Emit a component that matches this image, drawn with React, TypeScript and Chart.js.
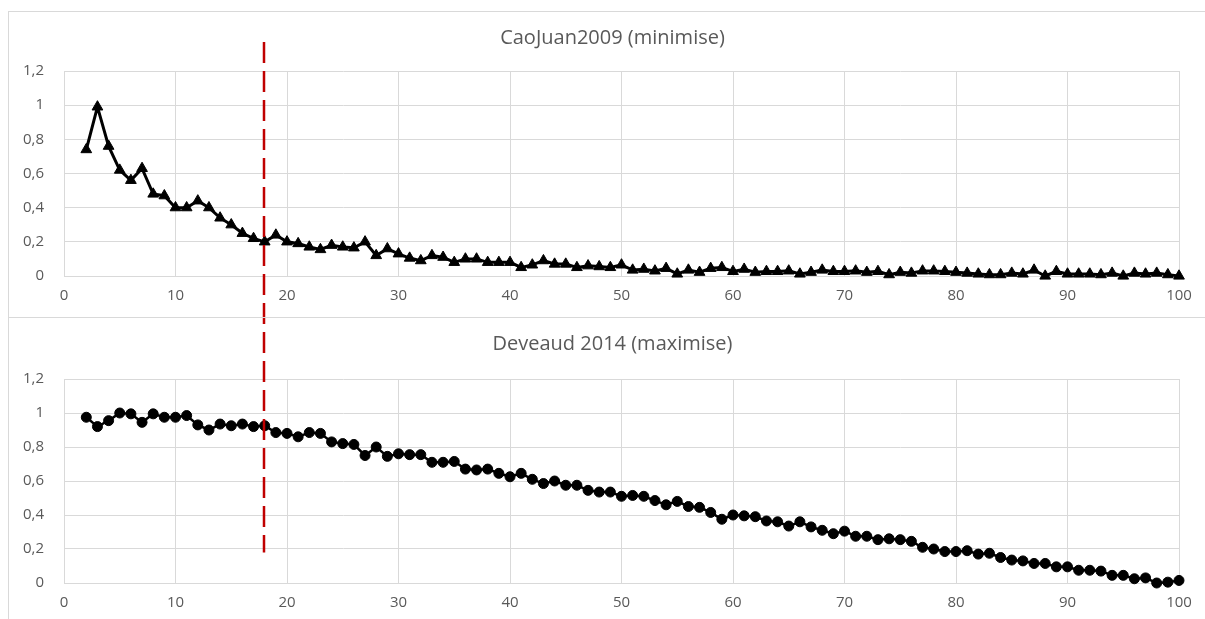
import React, { useEffect, useRef } from "react";
import { Chart, registerables } from "chart.js";

Chart.register(...registerables);

// ---------- data ----------
const kValues = [
  2, 3, 4, 5, 6, 7, 8, 9, 10, 11, 12, 13, 14, 15, 16, 17, 18, 19, 20, 21,
  22, 23, 24, 25, 26, 27, 28, 29, 30, 31, 32, 33, 34, 35, 36, 37, 38, 39, 40, 41,
  42, 43, 44, 45, 46, 47, 48, 49, 50, 51, 52, 53, 54, 55, 56, 57, 58, 59, 60, 61,
  62, 63, 64, 65, 66, 67, 68, 69, 70, 71, 72, 73, 74, 75, 76, 77, 78, 79, 80, 81,
  82, 83, 84, 85, 86, 87, 88, 89, 90, 91, 92, 93, 94, 95, 96, 97, 98, 99, 100,
];

const caoJuanValues = [
  0.74, 0.99, 0.76, 0.62, 0.56, 0.63, 0.48, 0.47, 0.4, 0.4, 0.44, 0.4, 0.34, 0.3, 0.25, 0.22, 0.2, 0.24, 0.2, 0.19,
  0.17, 0.155, 0.18, 0.17, 0.165, 0.2, 0.12, 0.16, 0.13, 0.105, 0.09, 0.12, 0.11, 0.08, 0.1, 0.1, 0.08, 0.08, 0.08, 0.05,
  0.065, 0.09, 0.07, 0.07, 0.05, 0.06, 0.055, 0.05, 0.065, 0.035, 0.04, 0.03, 0.045, 0.012, 0.035, 0.022, 0.045, 0.05, 0.027, 0.04,
  0.022, 0.027, 0.027, 0.03, 0.012, 0.022, 0.035, 0.027, 0.027, 0.03, 0.022, 0.027, 0.008, 0.022, 0.017, 0.03, 0.03, 0.027, 0.022, 0.017,
  0.012, 0.008, 0.008, 0.017, 0.012, 0.035, 0.0, 0.027, 0.012, 0.012, 0.012, 0.008, 0.017, 0.0, 0.017, 0.012, 0.017, 0.008, 0.0,
];

const deveaudValues = [
  0.975, 0.92, 0.955, 1.0, 0.995, 0.945, 0.995, 0.975, 0.975, 0.985, 0.93, 0.9, 0.935, 0.925, 0.935, 0.92, 0.925, 0.885, 0.88, 0.86,
  0.885, 0.88, 0.83, 0.82, 0.815, 0.75, 0.8, 0.745, 0.76, 0.755, 0.755, 0.71, 0.71, 0.715, 0.67, 0.665, 0.67, 0.645, 0.625, 0.645,
  0.61, 0.585, 0.6, 0.575, 0.575, 0.545, 0.535, 0.535, 0.51, 0.515, 0.51, 0.485, 0.46, 0.48, 0.45, 0.445, 0.415, 0.375, 0.4, 0.395,
  0.39, 0.365, 0.36, 0.335, 0.36, 0.33, 0.31, 0.29, 0.305, 0.275, 0.275, 0.255, 0.26, 0.255, 0.245, 0.21, 0.2, 0.185, 0.185, 0.19,
  0.17, 0.175, 0.15, 0.135, 0.13, 0.115, 0.115, 0.095, 0.095, 0.075, 0.075, 0.07, 0.045, 0.045, 0.025, 0.03, 0.0, 0.005, 0.015,
];

const xTickValues = [0, 10, 20, 30, 40, 50, 60, 70, 80, 90, 100];
const xTickLabels = ["0", "10", "20", "30", "40", "50", "60", "70", "80", "90", "100"];
const yTickValues = [0, 0.2, 0.4, 0.6, 0.8, 1, 1.2];
const yTickLabels = ["0", "0,2", "0,4", "0,6", "0,8", "1", "1,2"];

const topTitle = "CaoJuan2009 (minimise)";
const bottomTitle = "Deveaud 2014 (maximise)";

// chosen number of topics, marked by the red dashed line
const chosenK = 18;
const markerStartValue = 1.37; // top panel value where the marker begins
const markerEndValue = 0.18; // bottom panel value where the marker ends

// ---------- styles ----------
const FONT = "'Open Sans', 'DejaVu Sans', sans-serif";
const TEXT = "#595959";
const GRID = "#d9d9d9";
const DASH = [21, 8];
const DASH_LEN = 29;
const CANVAS_W = 1207;

type Shared = { covered: number };

function markerPlugin(kind: "top" | "bottom", shared: Shared) {
  return {
    id: "kMarker" + kind,
    afterDatasetsDraw(chart: any) {
      const { ctx } = chart;
      const xs = chart.scales.x;
      const ys = chart.scales.y;
      const px = Math.round(xs.getPixelForValue(chosenK)) - 1;
      let y0: number, y1: number, offset: number;
      if (kind === "top") {
        y0 = ys.getPixelForValue(markerStartValue);
        y1 = chart.height;
        offset = 0;
        shared.covered = y1 - y0;
      } else {
        y0 = 0;
        y1 = ys.getPixelForValue(markerEndValue);
        offset = (shared.covered + 1) % DASH_LEN;
      }
      ctx.save();
      ctx.strokeStyle = "#c00000";
      ctx.lineWidth = 2.5;
      ctx.setLineDash(DASH);
      ctx.lineDashOffset = offset;
      ctx.beginPath();
      ctx.moveTo(px, y0);
      ctx.lineTo(px, y1);
      ctx.stroke();
      ctx.restore();
    },
  };
}

function makeConfig(opts: {
  title: string;
  values: number[];
  pointStyle: string;
  pointRadius: number;
  lineWidth: number;
  titleBottom: number;
  xHeight: number;
  plugin: any;
}) {
  const tickFont = { family: FONT, size: 15 };
  return {
    type: "line",
    data: {
      datasets: [
        {
          data: kValues.map((k, i) => ({ x: k, y: opts.values[i] })),
          borderColor: "#000000",
          backgroundColor: "#000000",
          borderWidth: opts.lineWidth,
          pointStyle: opts.pointStyle,
          pointRadius: opts.pointRadius,
          pointBorderWidth: 1,
          pointBackgroundColor: "#000000",
          pointBorderColor: "#000000",
          tension: 0,
          clip: false,
          xAxisID: "x",
          yAxisID: "y",
        },
      ],
    },
    options: {
      responsive: false,
      animation: false,
      events: [],
      layout: { padding: 0 },
      plugins: {
        legend: { display: false },
        tooltip: { enabled: false },
        title: {
          display: true,
          text: opts.title,
          color: TEXT,
          font: { family: FONT, size: 20, weight: "normal", lineHeight: 1.2 },
          padding: { top: 14, bottom: opts.titleBottom },
        },
      },
      scales: {
        x: {
          type: "linear",
          min: 0,
          max: 100,
          afterBuildTicks: (s: any) => {
            s.ticks = xTickValues.map((v) => ({ value: v }));
          },
          afterFit: (s: any) => {
            s.height = opts.xHeight;
            s.paddingLeft = 0;
            s.paddingRight = 0;
          },
          ticks: {
            callback: (_v: any, i: number) => xTickLabels[i],
            padding: 11,
            color: TEXT,
            font: tickFont,
            maxRotation: 0,
            autoSkip: false,
          },
          grid: { color: GRID, lineWidth: 1, drawTicks: false },
          border: { display: true, color: GRID },
        },
        y: {
          type: "linear",
          position: "left",
          min: 0,
          max: 1.2,
          afterBuildTicks: (s: any) => {
            s.ticks = yTickValues.map((v) => ({ value: v }));
          },
          afterFit: (s: any) => {
            s.width = 55;
            s.paddingTop = 0;
            s.paddingBottom = 0;
          },
          ticks: {
            callback: (_v: any, i: number) => yTickLabels[i],
            padding: 20,
            color: TEXT,
            font: tickFont,
            autoSkip: false,
          },
          grid: { color: GRID, lineWidth: 1, drawTicks: false },
          border: { display: true, color: GRID },
        },
        spacer: {
          type: "linear",
          position: "right",
          min: 0,
          max: 1,
          afterFit: (s: any) => {
            s.width = CANVAS_W - 1170;
            s.paddingTop = 0;
            s.paddingBottom = 0;
          },
          ticks: { display: false },
          grid: { display: false, drawTicks: false },
          border: { display: false },
        },
      },
    },
    plugins: [opts.plugin],
  } as any;
}

export default function App() {
  const topRef = useRef<HTMLCanvasElement | null>(null);
  const bottomRef = useRef<HTMLCanvasElement | null>(null);

  useEffect(() => {
    const shared: Shared = { covered: 0 };
    const top = new Chart(
      topRef.current as HTMLCanvasElement,
      makeConfig({
        title: topTitle,
        values: caoJuanValues,
        pointStyle: "triangle",
        pointRadius: 6.2,
        lineWidth: 3,
        titleBottom: 21,
        xHeight: 41,
        plugin: markerPlugin("top", shared),
      })
    );
    const bottom = new Chart(
      bottomRef.current as HTMLCanvasElement,
      makeConfig({
        title: bottomTitle,
        values: deveaudValues,
        pointStyle: "circle",
        pointRadius: 5,
        lineWidth: 2.5,
        titleBottom: 23,
        xHeight: 36,
        plugin: markerPlugin("bottom", shared),
      })
    );
    return () => {
      top.destroy();
      bottom.destroy();
    };
  }, []);

  const panel = {
    position: "absolute" as const,
    left: 8,
    width: 1197,
    boxSizing: "border-box" as const,
    borderTop: `1px solid ${GRID}`,
    borderLeft: `1px solid ${GRID}`,
  };

  return (
    <div
      style={{
        position: "fixed",
        left: 0,
        top: 0,
        width: 1205,
        height: 619,
        overflow: "hidden",
        background: "#ffffff",
      }}
    >
      <div style={{ ...panel, top: 11, height: 306 }} />
      <div style={{ ...panel, top: 317, height: 302 }} />
      <canvas
        ref={topRef}
        width={CANVAS_W}
        height={305}
        style={{ position: "absolute", left: 9, top: 12, width: CANVAS_W, height: 305 }}
      />
      <canvas
        ref={bottomRef}
        width={CANVAS_W}
        height={301}
        style={{ position: "absolute", left: 9, top: 318, width: CANVAS_W, height: 301 }}
      />
    </div>
  );
}
